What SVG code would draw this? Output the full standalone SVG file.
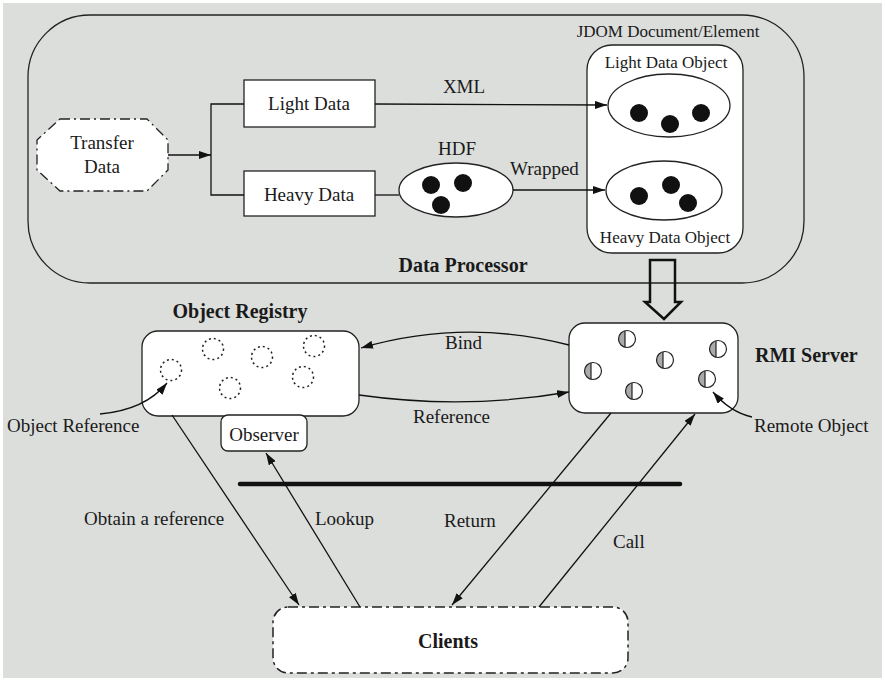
<svg xmlns="http://www.w3.org/2000/svg" width="885" height="681" viewBox="0 0 885 681">
<defs>
<style>
text{font-family:"Liberation Serif","Times New Roman",serif;fill:#1a1a1a;}
.t{font-size:19px;}
.s{font-size:17px;}
.b{font-size:20px;font-weight:bold;}
.box{fill:#fff;stroke:#222;stroke-width:1.3;}
.ln{fill:none;stroke:#111;stroke-width:1.3;}
.dot{fill:#111;}
.dc{fill:none;stroke:#222;stroke-width:1.5;stroke-dasharray:2 3;}
</style>
<marker id="ah" viewBox="0 0 12 8" refX="12" refY="4" markerWidth="12" markerHeight="8" orient="auto" markerUnits="userSpaceOnUse"><path d="M0,0 L12,4 L0,8 z" fill="#111"/></marker>
<g id="ro">
<circle r="8.5" fill="#fff"/>
<path d="M-2,-8.26 A8.5,8.5 0 0 0 -2,8.26 Z" fill="#aaa"/>
<line x1="-2" y1="-8.26" x2="-2" y2="8.26" stroke="#222" stroke-width="1.2"/>
<circle r="8.5" fill="none" stroke="#222" stroke-width="1.2"/>
</g>
</defs>
<rect x="0" y="0" width="885" height="681" fill="#fff"/>
<rect x="3" y="3" width="879" height="675" fill="#dcdedc"/>

<g id="data-processor">
<rect x="28" y="15" width="776" height="268" rx="62" ry="62" fill="none" stroke="#222" stroke-width="1.3"/>
<text class="b" x="463" y="272" text-anchor="middle">Data Processor</text>
</g>

<g id="transfer-data">
<polygon points="60,119 147,119 168,140 168,170 147,191 60,191 37,170 37,140" fill="#fff" stroke="#222" stroke-width="1.3" stroke-dasharray="10 4 2 4"/>
<text class="t" x="102" y="149" text-anchor="middle">Transfer</text>
<text class="t" x="102" y="173" text-anchor="middle">Data</text>
</g>

<g id="light-data">
<rect class="box" x="244" y="80" width="131" height="47"/>
<text class="t" x="309" y="110" text-anchor="middle">Light Data</text>
</g>

<g id="heavy-data">
<rect class="box" x="244" y="171" width="131" height="45"/>
<text class="t" x="309" y="201" text-anchor="middle">Heavy Data</text>
</g>

<g id="hdf">
<ellipse class="box" cx="456" cy="190" rx="57" ry="27"/>
<circle class="dot" cx="431" cy="185" r="9"/>
<circle class="dot" cx="463" cy="183" r="9"/>
<circle class="dot" cx="441" cy="205" r="9"/>
<text class="t" x="457" y="155" text-anchor="middle">HDF</text>
</g>

<g id="jdom">
<text class="s" x="668" y="37" text-anchor="middle">JDOM Document/Element</text>
<rect class="box" x="587" y="45" width="156" height="208" rx="25" ry="25"/>
<text class="s" x="666" y="68" text-anchor="middle">Light Data Object</text>
<text class="s" x="665" y="243" text-anchor="middle">Heavy Data Object</text>
</g>

<g id="light-data-object">
<ellipse class="box" cx="669" cy="105.5" rx="61" ry="31.5"/>
<circle class="dot" cx="639" cy="113" r="9"/>
<circle class="dot" cx="670" cy="124" r="9"/>
<circle class="dot" cx="701" cy="113" r="9"/>
</g>

<g id="heavy-data-object">
<ellipse class="box" cx="664" cy="190.5" rx="58" ry="29.5"/>
<circle class="dot" cx="639" cy="196" r="9"/>
<circle class="dot" cx="671" cy="185" r="9"/>
<circle class="dot" cx="688" cy="203" r="9"/>
</g>

<g id="object-registry">
<rect class="box" x="142" y="331" width="217" height="85" rx="16" ry="16"/>
<text class="b" x="240" y="318" text-anchor="middle">Object Registry</text>
<circle class="dc" cx="171" cy="370" r="10.5"/>
<circle class="dc" cx="213" cy="349" r="10.5"/>
<circle class="dc" cx="262" cy="357" r="10.5"/>
<circle class="dc" cx="314" cy="346" r="10.5"/>
<circle class="dc" cx="303" cy="377" r="10.5"/>
<circle class="dc" cx="230" cy="388" r="10.5"/>
</g>

<g id="observer">
<rect class="box" x="221" y="415" width="86" height="36" rx="7" ry="7"/>
<text class="t" x="264" y="441" text-anchor="middle">Observer</text>
</g>

<g id="rmi-server">
<rect class="box" x="569" y="323" width="169" height="90" rx="16" ry="16"/>
<text class="b" x="755" y="362">RMI Server</text>
<use href="#ro" x="593" y="371"/>
<use href="#ro" x="627" y="339"/>
<use href="#ro" x="665" y="360"/>
<use href="#ro" x="718" y="349"/>
<use href="#ro" x="634" y="391"/>
<use href="#ro" x="707" y="379"/>
</g>

<g id="clients">
<rect x="273" y="607" width="355" height="66" rx="15" ry="15" fill="#fff" stroke="#222" stroke-width="1.5" stroke-dasharray="10 4 3 4"/>
<text class="b" x="448" y="648" text-anchor="middle">Clients</text>
</g>

<g id="labels">
<text class="t" x="7" y="432">Object Reference</text>
<text class="t" x="754" y="432">Remote Object</text>
<text class="t" x="464" y="93" text-anchor="middle">XML</text>
<text class="t" x="510" y="175">Wrapped</text>
<text class="t" x="445" y="349">Bind</text>
<text class="t" x="413" y="423">Reference</text>
<text class="t" x="84" y="525">Obtain a reference</text>
<text class="t" x="315" y="525">Lookup</text>
<text class="t" x="444" y="527">Return</text>
<text class="t" x="613" y="548">Call</text>
</g>

<g id="connectors">
<line class="ln" x1="168" y1="155" x2="211" y2="155" marker-end="url(#ah)"/>
<polyline class="ln" points="244,104 211,104 211,195 244,195"/>
<line class="ln" x1="375" y1="104" x2="607" y2="105" marker-end="url(#ah)"/>
<line class="ln" x1="375" y1="195" x2="399" y2="195"/>
<line class="ln" x1="513" y1="190" x2="605" y2="190" marker-end="url(#ah)"/>
<path d="M650,260 L675,260 L675,302 L681,302 L664,319 L645,302 L650,302 Z" fill="none" stroke="#111" stroke-width="2.5" stroke-linejoin="miter"/>
<path class="ln" d="M569,345 Q465,318 361,348" marker-end="url(#ah)"/>
<path class="ln" d="M359,395 Q465,410 569,392" marker-end="url(#ah)"/>
<path class="ln" d="M100,414 Q145,410 167,383" marker-end="url(#ah)"/>
<path class="ln" d="M752,417 Q730,412 713,392" marker-end="url(#ah)"/>
<line x1="240" y1="484" x2="680" y2="484" stroke="#111" stroke-width="4.5" stroke-linecap="round"/>
<line class="ln" x1="172" y1="415" x2="299" y2="605" marker-end="url(#ah)"/>
<line class="ln" x1="360" y1="607" x2="266" y2="453" marker-end="url(#ah)"/>
<line class="ln" x1="611" y1="413" x2="452" y2="605" marker-end="url(#ah)"/>
<line class="ln" x1="539" y1="607" x2="695" y2="414" marker-end="url(#ah)"/>
</g>
</svg>
